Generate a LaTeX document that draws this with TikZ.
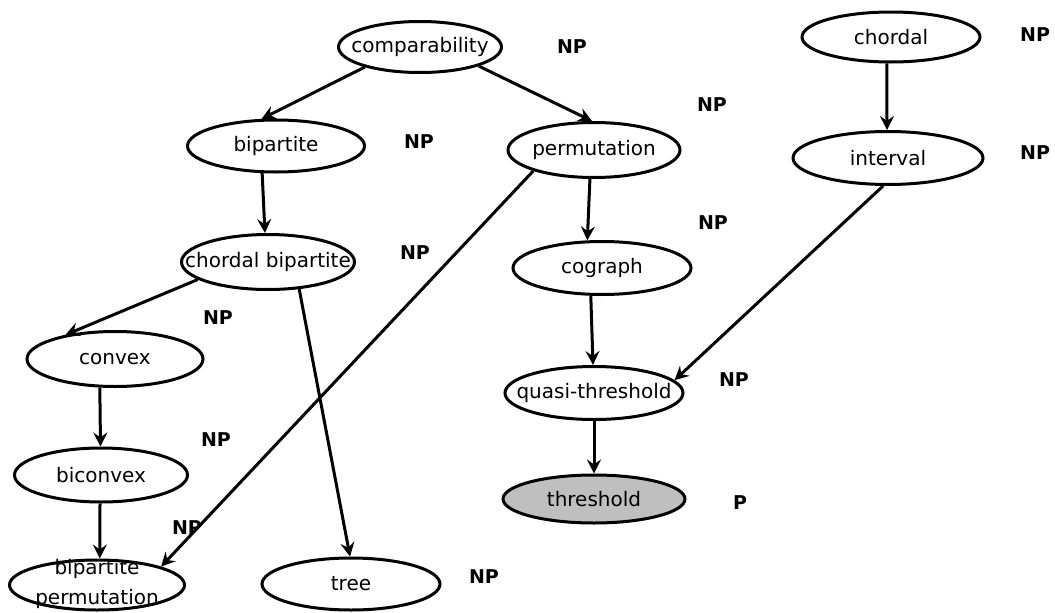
\documentclass[tikz,border=0pt]{standalone}
\usepackage{fontspec}
\setmainfont{DejaVu Sans}
\usetikzlibrary{shapes.geometric,arrows.meta}
\begin{document}
\begin{tikzpicture}[x=1pt,y=-1pt,
  gn/.style={ellipse,draw,line width=3pt,inner sep=0pt,font=\fontsize{20}{24}\selectfont},
  cls/.style={font=\fontsize{19}{22}\selectfont\bfseries},
  arr/.style={line width=3pt,-{Stealth[length=14pt,width=14pt,inset=5pt]}}]
\useasboundingbox (0,0) rectangle (1055,613);
% nodes
\node[gn,minimum width=163,minimum height=51] (comp) at (420,47) {\makebox[0pt]{comparability}};
\node[gn,minimum width=177,minimum height=52] (bip) at (276,146) {\makebox[0pt]{bipartite}};
\node[gn,minimum width=172,minimum height=55] (perm) at (594,150) {\makebox[0pt]{permutation}};
\node[gn,minimum width=178,minimum height=50] (chordal) at (891,37) {\makebox[0pt]{chordal}};
\node[gn,minimum width=190,minimum height=53] (interval) at (888,158) {\makebox[0pt]{interval}};
\node[gn,minimum width=173,minimum height=55] (cb) at (268,262) {\makebox[0pt]{chordal bipartite}};
\node[gn,minimum width=178,minimum height=53] (cog) at (602,268) {\makebox[0pt]{cograph}};
\node[gn,minimum width=176,minimum height=55] (convex) at (115,359) {\makebox[0pt]{convex}};
\node[gn,minimum width=178,minimum height=53] (quasi) at (594,393) {\makebox[0pt]{quasi-threshold}};
\node[gn,minimum width=173,minimum height=54] (bicon) at (101,475) {\makebox[0pt]{biconvex}};
\node[gn,minimum width=182,minimum height=48,fill=gray!50] (thr) at (594,499) {\makebox[0pt]{threshold}};
\node[gn,minimum width=175,minimum height=50,
  label={[align=center,yshift=1pt,font=\fontsize{20}{30}\selectfont]center:bipartite\\permutation}] (bperm) at (97,585) {};
\node[gn,minimum width=178,minimum height=52] (tree) at (351,584) {\makebox[0pt]{tree}};
% class labels
\node[cls] (l1) at (572,47) {NP};
\node[cls] (l2) at (419,142) {NP};
\node[cls] (l3) at (712,105) {NP};
\node[cls] (l4) at (1035,35) {NP};
\node[cls] (l5) at (1035,153) {NP};
\node[cls] (l6) at (415,253) {NP};
\node[cls] (l7) at (713,223) {NP};
\node[cls] (l8) at (218,318) {NP};
\node[cls] (l9) at (734,380) {NP};
\node[cls] (l10) at (216,440) {NP};
\node[cls] (l11) at (740,503) {P};
\node[cls] (l12) at (187,528) {NP};
\node[cls] (l13) at (484,577) {NP};
% edges
\draw[arr] (comp.200) -- (bip.118);
\draw[arr] (comp.342) -- (perm.94);
\draw[arr] (bip.243) -- (cb.96);
\draw[arr] (cb.194) -- (convex.154);
\draw[arr] (cb.319) -- (tree.92);
\draw[arr] (perm.199) -- (bperm.16);
\draw[arr] (perm.262) -- (cog.118);
\draw[arr] (cog.248) -- (quasi.92);
\draw[arr] (interval.260) -- (quasi.9);
\draw[arr] (quasi.270) -- (thr.90);
\draw[arr] (chordal.261) -- (interval.92);
\draw[arr] (convex.242) -- (bicon.91);
\draw[arr] (bicon.268) -- (bperm.84);
\end{tikzpicture}
\end{document}
